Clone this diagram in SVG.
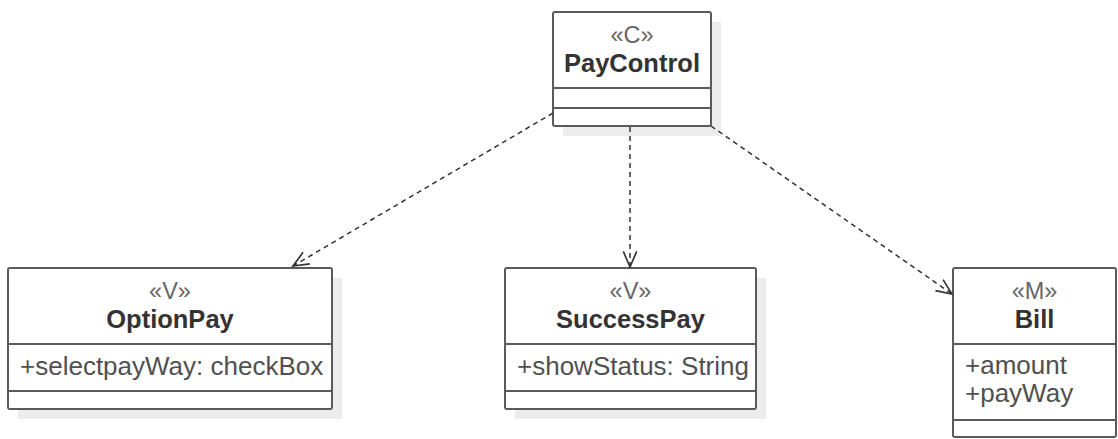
<svg xmlns="http://www.w3.org/2000/svg" width="1118" height="439" viewBox="0 0 1118 439">
<style>
.shadow{fill:#ececec;stroke:none}
.box{fill:#fff;stroke:#5a5a5a;stroke-width:2}
.sep{stroke:#5a5a5a;stroke-width:2}
.st{font-family:"Liberation Sans",Arial,sans-serif;font-size:23.5px;fill:#666;text-anchor:middle}
.nm{font-family:"Liberation Sans",Arial,sans-serif;font-size:25.5px;font-weight:bold;fill:#333;text-anchor:middle}
.at{font-family:"Liberation Sans",Arial,sans-serif;font-size:26px;fill:#505050}
.dep{fill:none;stroke:#333;stroke-width:1.5;stroke-dasharray:5 4}
</style>
<defs>
<marker id="open" markerUnits="userSpaceOnUse" markerWidth="20" markerHeight="20" viewBox="-16 -8 18 16" refX="0" refY="0" orient="auto">
<path d="M-14,-6 L0,0 L-14,6" fill="none" stroke="#333" stroke-width="1.5"/>
</marker>
</defs>
<rect width="1118" height="439" fill="#fff"/>
<g id="PayControl">
<rect class="shadow" x="563" y="22" width="158" height="114"/>
<rect class="box" x="553" y="12" width="158" height="114" rx="2"/>
<line class="sep" x1="553" y1="88" x2="711" y2="88"/>
<line class="sep" x1="553" y1="108" x2="711" y2="108"/>
<text class="st" x="632" y="43">«C»</text>
<text class="nm" x="632" y="72">PayControl</text>
</g>
<g id="OptionPay">
<rect class="shadow" x="18" y="278" width="324" height="141"/>
<rect class="box" x="8" y="268" width="324" height="141" rx="2"/>
<line class="sep" x1="8" y1="344" x2="332" y2="344"/>
<line class="sep" x1="8" y1="391" x2="332" y2="391"/>
<text class="st" x="170" y="299">«V»</text>
<text class="nm" x="170" y="328">OptionPay</text>
<text class="at" x="20" y="375">+selectpayWay: checkBox</text>
</g>
<g id="SuccessPay">
<rect class="shadow" x="515" y="278" width="251" height="141"/>
<rect class="box" x="505" y="268" width="251" height="141" rx="2"/>
<line class="sep" x1="505" y1="344" x2="756" y2="344"/>
<line class="sep" x1="505" y1="391" x2="756" y2="391"/>
<text class="st" x="630.5" y="299">«V»</text>
<text class="nm" x="630.5" y="328">SuccessPay</text>
<text class="at" x="517" y="375">+showStatus: String</text>
</g>
<g id="Bill">
<rect class="box" x="953" y="268" width="163" height="169" rx="2"/>
<line class="sep" x1="953" y1="344" x2="1116" y2="344"/>
<line class="sep" x1="953" y1="420" x2="1116" y2="420"/>
<text class="st" x="1034.5" y="299">«M»</text>
<text class="nm" x="1034.5" y="328">Bill</text>
<text class="at" x="965" y="374">+amount</text>
<text class="at" x="965" y="402">+payWay</text>
</g>
<g id="connectors">
<path class="dep" d="M553,113 L293,266" marker-end="url(#open)"/>
<path class="dep" d="M630,127 L630,267" marker-end="url(#open)"/>
<path class="dep" d="M711,126 L952,294" marker-end="url(#open)"/>
</g>
</svg>
